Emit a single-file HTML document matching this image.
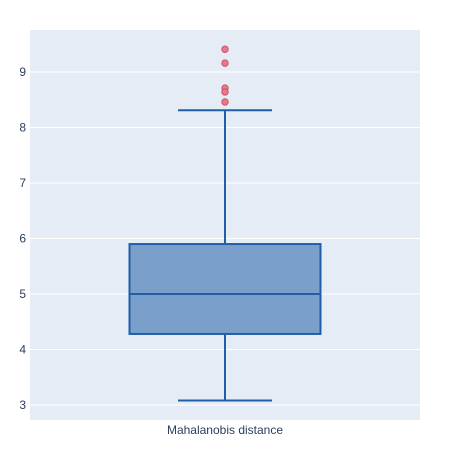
<!DOCTYPE html>
<html><head><meta charset="utf-8"><style>
body{margin:0;background:#fff}
svg{display:block;font-family:"Liberation Sans",sans-serif}
</style></head><body>
<svg id="c" width="450" height="450"></svg>
<script>
const yTicks=[3,4,5,6,7,8,9];
const category=["Mahalanobis distance"];
const q1=[4.28];
const median=[5.0];
const q3=[5.9];
const lowerFence=[3.08];
const upperFence=[8.31];
const outliers=[9.41,9.16,8.71,8.64,8.46];

const svg=document.getElementById('c');
const NS='http://www.w3.org/2000/svg';
const L=30,R=420,T=30,B=420;
function y(v){return 405-(v-3)*((405-72)/6);}
const cx=225,bw=191,cw=94;
function mk(tag,attrs,name,parent){const e=document.createElementNS(NS,tag);for(const k in attrs)e.setAttribute(k,attrs[k]);


(parent||svg).appendChild(e);return e;}
mk('rect',{x:L,y:T,width:R-L,height:B-T,fill:'#e5ecf6'},'plot-area');
yTicks.forEach(t=>{
  mk('line',{x1:L,x2:R,y1:y(t),y2:y(t),stroke:'#fff','stroke-width':1},'gridline-'+t);
  const tx=mk('text',{x:L-4,y:y(t)+4,'text-anchor':'end','font-size':12,fill:'#2a3f5f'},'y-tick-label-'+t);
  tx.textContent=t;
});
const g=mk('g',{},'box-trace');
mk('line',{x1:cx,x2:cx,y1:y(q3[0]),y2:y(upperFence[0]),stroke:'#1f5fa8','stroke-width':2},'upper-whisker',g);
mk('line',{x1:cx,x2:cx,y1:y(q1[0]),y2:y(lowerFence[0]),stroke:'#1f5fa8','stroke-width':2},'lower-whisker',g);
mk('line',{x1:cx-cw/2,x2:cx+cw/2,y1:y(upperFence[0]),y2:y(upperFence[0]),stroke:'#1f5fa8','stroke-width':2},'upper-cap',g);
mk('line',{x1:cx-cw/2,x2:cx+cw/2,y1:y(lowerFence[0]),y2:y(lowerFence[0]),stroke:'#1f5fa8','stroke-width':2},'lower-cap',g);
mk('rect',{x:cx-bw/2,y:y(q3[0]),width:bw,height:y(q1[0])-y(q3[0]),fill:'#7a9fca',stroke:'#1f5fa8','stroke-width':2},'iqr-box',g);
mk('line',{x1:cx-bw/2,x2:cx+bw/2,y1:y(median[0]),y2:y(median[0]),stroke:'#1f5fa8','stroke-width':2},'median-line',g);
outliers.forEach((v,i)=>{
  mk('circle',{cx:cx,cy:y(v),r:3.2,fill:'#e57a8c',stroke:'#d0506a','stroke-width':1},'outlier-'+i,g);
});
const xl=mk('text',{x:cx,y:434,'text-anchor':'middle','font-size':12,fill:'#2a3f5f'},'x-category-label');
xl.textContent=category[0];
</script>
</body></html>
